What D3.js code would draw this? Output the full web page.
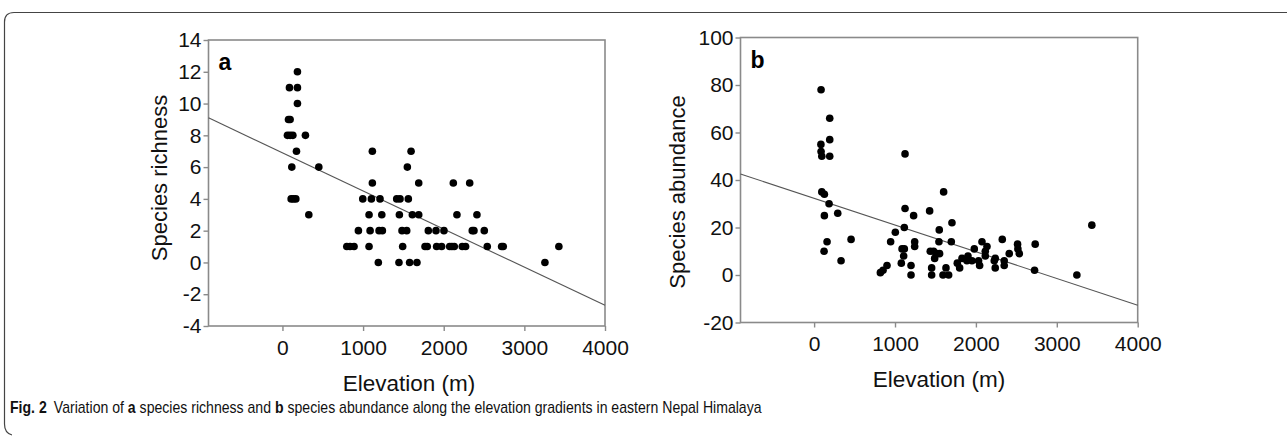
<!DOCTYPE html>
<html><head><meta charset="utf-8">
<script src="https://cdn.jsdelivr.net/npm/d3@7"></script>
<style>body{margin:0;background:#fff}svg{display:block}</style>
</head><body>
<svg id="c" width="1287" height="436"></svg>
<script>
// ---- data ----
const xTicks = [0, 1000, 2000, 3000, 4000];
const yTicksA = [-4, -2, 0, 2, 4, 6, 8, 10, 12, 14];
const yTicksB = [-20, 0, 20, 40, 60, 80, 100];
const elevA = [186,87,186,186,75,95,62,95,129,285,174,116,451,108,136,166,327,
  1115,1595,1549,1115,1690,2119,2322,996,1103,1210,1417,1458,1561,
  1074,1232,1450,1611,1690,2164,2412,
  942,1087,1198,1239,1483,1541,1809,1904,2003,2354,2375,2503,
  798,838,888,1074,1491,1768,1796,1912,1974,2074,2102,2131,2230,2271,2540,2718,2738,3428,
  1189,1445,1577,1668,3255];
const richA = [12,11,11,10,9,9,8,8,8,8,7,6,6,4,4,4,3,
  7,7,6,5,5,5,5,4,4,4,4,4,4,
  3,3,3,3,3,3,3,
  2,2,2,2,2,2,2,2,2,2,2,2,
  1,1,1,1,1,1,1,1,1,1,1,1,1,1,1,1,1,1,
  0,0,0,0,0];
const elevB = [86,193,193,84,86,95,193,95,127,185,127,292,160,123,457,333,
  819,852,901,1004,946,1124,1124,1115,1230,1087,1115,1107,1078,1198,1198,1243,1243,
  1428,1547,1543,1436,1477,1551,1519,1490,1453,1453,1601,1630,1593,1663,1704,1696,
  1770,1799,1828,1902,1889,1951,1980,2046,2033,2075,2116,2137,2116,2239,2227,2239,
  2326,2350,2350,2412,2515,2519,2536,2733,2725,3248,3433];
const abunB = [78,66,57,55,52,50,50,35,34,30,25,26,14,10,15,6,
  1,2,4,18,14,51,28,20,25,11,11,8,5,4,0,14,12,
  27,19,14,10,10,9,9,7,3,0,35,3,0,0,22,14,
  5,3,7,8,6,6,11,4,6,14,10,12,8,7,6,3,
  15,6,4,9,13,11,9,13,2,0,21];
const fitA = {intercept: 6.9, slope: -0.0024};
const fitB = {intercept: 32.3, slope: -0.01125};
const xLabel = "Elevation (m)";
const yLabelA = "Species richness";
const yLabelB = "Species abundance";

// ---- drawing ----
const svg = d3.select("#c");
const font = "'Liberation Sans', Arial, sans-serif";
const axisCol = "#8a8a8a";

svg.append("path")
  .attr("d", "M1287,12.5 L14,12.5 Q4.5,12.5 4.5,22 L4.5,424 Q4.5,433 12,435")
  .attr("fill", "none").attr("stroke", "#444").attr("stroke-width", 1.2);

function panel(o) {
  const x = d3.scaleLinear().domain([o.xmin, 4000]).range([o.left, o.right]);
  const y = d3.scaleLinear().domain(o.ydom).range([o.bottom, o.top]);
  const g = svg.append("g");
  g.append("rect").attr("x", o.left).attr("y", o.top)
    .attr("width", o.right - o.left).attr("height", o.bottom - o.top)
    .attr("fill", "none").attr("stroke", axisCol).attr("stroke-width", 1.6);
  const ax = g.append("g").attr("transform", `translate(0,${o.bottom})`)
    .call(d3.axisBottom(x).tickValues(xTicks).tickSize(5).tickPadding(9).tickFormat(d => String(d)));
  const ay = g.append("g").attr("transform", `translate(${o.left},0)`)
    .call(d3.axisLeft(y).tickValues(o.yticks).tickSize(5).tickPadding(2).tickFormat(d => String(d)));
  [ax, ay].forEach(a => {
    a.select(".domain").remove();
    a.selectAll("line").attr("stroke", axisCol).attr("stroke-width", 1.4);
    a.selectAll("text").attr("font-family", font).attr("font-size", 21).attr("fill", "#111");
  });
  ax.selectAll("text").attr("dy", "0.71em");
  const x0 = o.xmin, x1 = 4000;
  g.append("line")
    .attr("x1", x(x0)).attr("y1", y(o.fit.intercept + o.fit.slope * x0))
    .attr("x2", x(x1)).attr("y2", y(o.fit.intercept + o.fit.slope * x1))
    .attr("stroke", "#555").attr("stroke-width", 1.1);
  g.selectAll("circle.p").data(o.xs.map((v, i) => [v, o.ys[i]])).enter()
    .append("circle").attr("class", "p")
    .attr("cx", d => x(d[0])).attr("cy", d => y(d[1])).attr("r", 3.8).attr("fill", "#000");
  g.append("text").attr("x", o.left + 10).attr("y", o.top + 30)
    .attr("font-family", font).attr("font-weight", "bold").attr("font-size", 23)
    .text(o.letter);
  g.append("text").attr("x", o.xtx).attr("y", o.xty).attr("text-anchor", "middle")
    .attr("font-family", font).attr("font-size", 22.5).attr("fill", "#111").text(xLabel);
  g.append("text").attr("transform", `translate(${o.ytx},${o.yty}) rotate(-90)`)
    .attr("text-anchor", "middle").attr("dy", "0.35em")
    .attr("font-family", font).attr("font-size", 22).attr("fill", "#111").text(o.ylabel);
}

panel({xmin: -917, left: 208.5, right: 605, top: 40, bottom: 326, ydom: [-4, 14],
  yticks: yTicksA, fit: fitA, xs: elevA, ys: richA, letter: "a",
  xtx: 409, xty: 391, ytx: 159, yty: 178, ylabel: yLabelA});
panel({xmin: -910, left: 740.5, right: 1137.7, top: 37.5, bottom: 322.5, ydom: [-20, 100],
  yticks: yTicksB, fit: fitB, xs: elevB, ys: abunB, letter: "b",
  xtx: 939, xty: 387, ytx: 677, yty: 192, ylabel: yLabelB});

// caption (condensed horizontally to match the narrow journal font)
const capG = svg.append("g");
const cap = capG.append("text").attr("x", 0).attr("y", 0)
  .attr("font-family", font).attr("font-size", 16).attr("fill", "#111");
cap.append("tspan").attr("font-weight", "bold").text("Fig. 2");
cap.append("tspan").text("\u2002Variation of ");
cap.append("tspan").attr("font-weight", "bold").text("a");
cap.append("tspan").text(" species richness and ");
cap.append("tspan").attr("font-weight", "bold").text("b");
cap.append("tspan").text(" species abundance along the elevation gradients in eastern Nepal Himalaya");
const w = cap.node().getComputedTextLength();
capG.attr("transform", `translate(10,413) scale(${752 / w},1)`);
</script>
</body></html>
